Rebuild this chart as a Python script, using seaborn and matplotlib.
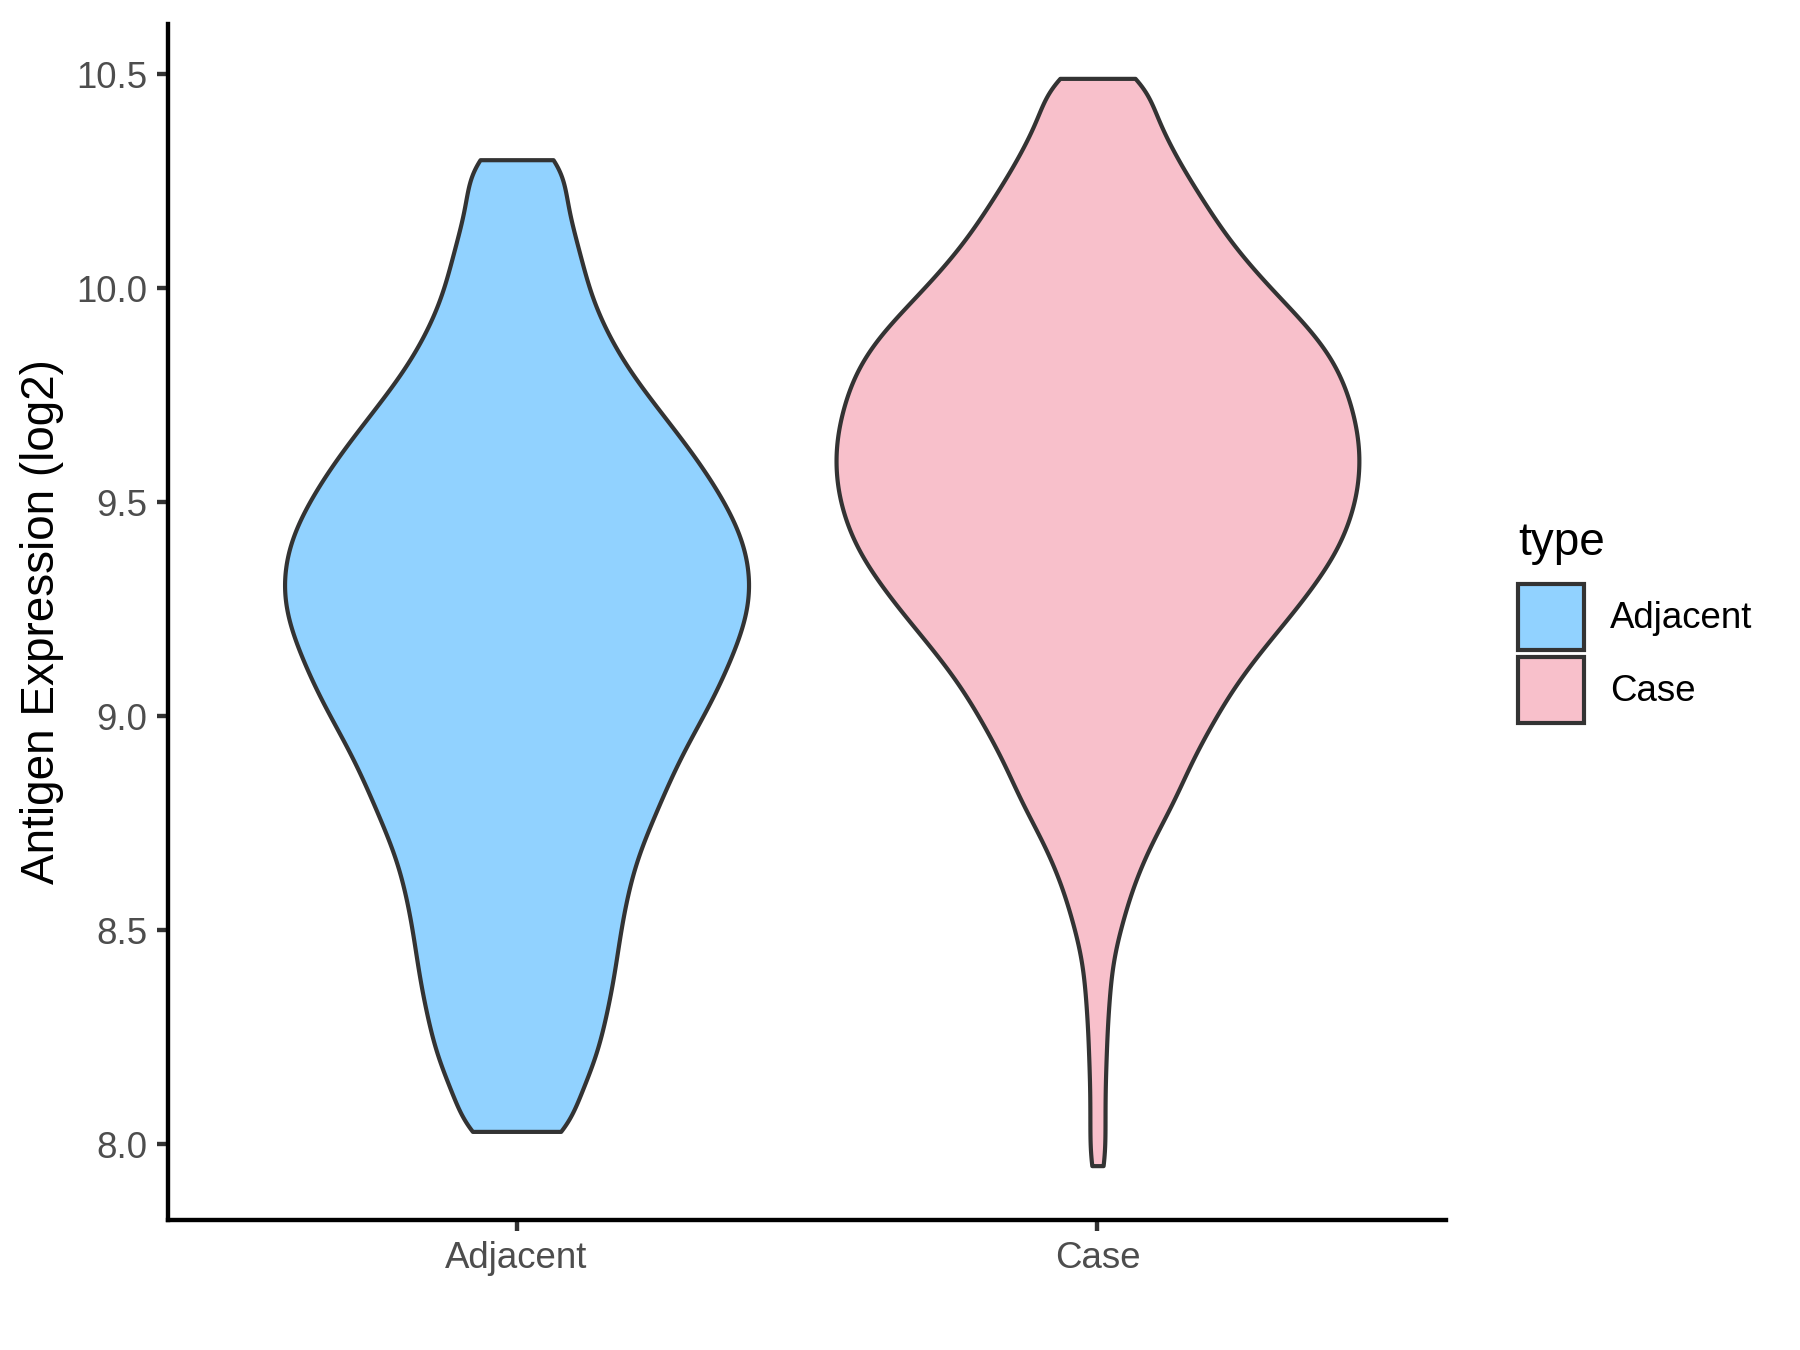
import numpy as np
import pandas as pd
import matplotlib
matplotlib.use("Agg")
import matplotlib.pyplot as plt
import seaborn as sns

# ---------------- data ----------------
categories = ["Adjacent", "Case"]
fill_colors = ["#91D2FF", "#F8C0CB"]

# expression values (log2) and how many samples sit at each value
adjacent_values = [8.03, 8.10, 8.15, 8.20, 8.25, 8.30, 8.35, 8.40, 8.45, 8.50,
                   8.55, 8.60, 8.65, 8.70, 8.75, 8.80, 8.85, 8.90, 8.95, 9.00,
                   9.05, 9.10, 9.15, 9.20, 9.25, 9.30, 9.35, 9.40, 9.45, 9.50,
                   9.55, 9.60, 9.65, 9.70, 9.75, 9.80, 9.85, 9.90, 9.95, 10.00,
                   10.05, 10.10, 10.15, 10.20, 10.25, 10.30]
adjacent_counts = [30, 21, 23, 26, 28, 29, 31, 32, 33, 34,
                   35, 37, 38, 41, 44, 47, 50, 53, 57, 61,
                   65, 68, 71, 74, 76, 77, 76, 75, 72, 68,
                   64, 59, 54, 48, 43, 37, 33, 29, 26, 23,
                   22, 20, 18, 16, 14, 22]

case_values = [7.95, 8.00, 8.05, 8.10, 8.15, 8.20, 8.25, 8.30, 8.35, 8.40,
               8.45, 8.50, 8.55, 8.60, 8.65, 8.70, 8.75, 8.80, 8.85, 8.90,
               8.95, 9.00, 9.05, 9.10, 9.15, 9.20, 9.25, 9.30, 9.35, 9.40,
               9.45, 9.50, 9.55, 9.60, 9.65, 9.70, 9.75, 9.80, 9.85, 9.90,
               9.95, 10.00, 10.05, 10.10, 10.15, 10.20, 10.25, 10.30, 10.35, 10.40,
               10.45, 10.49]
case_counts = [6, 5, 5, 5, 5, 6, 6, 7, 8, 9,
               11, 15, 19, 23, 29, 35, 43, 51, 57, 63,
               71, 79, 87, 97, 108, 120, 132, 143, 153, 162,
               167, 172, 174, 175, 174, 171, 167, 162, 154, 143,
               129, 115, 102, 90, 80, 71, 62, 53, 46, 39,
               30, 34]

y_ticks = [8.0, 8.5, 9.0, 9.5, 10.0, 10.5]
y_tick_labels = ["8.0", "8.5", "9.0", "9.5", "10.0", "10.5"]
y_title = "Antigen Expression (log2)"
legend_title = "type"

# ---------------- long-form table ----------------
df = pd.DataFrame({
    "type": ["Adjacent"] * int(np.sum(adjacent_counts)) + ["Case"] * int(np.sum(case_counts)),
    "value": np.concatenate([np.repeat(adjacent_values, adjacent_counts),
                             np.repeat(case_values, case_counts)]),
})

# ---------------- style ----------------
sns.set_theme(style="ticks")
plt.rcParams["font.family"] = ["Liberation Sans", "DejaVu Sans"]

fig = plt.figure(figsize=(6, 4.5), dpi=300)
ax = fig.add_axes([168 / 1800, 1 - 1220 / 1350, (1446 - 168) / 1800, (1220 - 24) / 1350])

sns.violinplot(
    data=df, x="type", y="value", hue="type",
    order=categories, hue_order=categories,
    palette=dict(zip(categories, fill_colors)), saturation=1,
    inner=None, cut=0, bw_method=0.12, gridsize=400,
    density_norm="area", common_norm=True, width=0.9, dodge=False,
    linewidth=1.0, linecolor="#333333", legend=True, ax=ax,
)

ax.set_xlim(-0.6, 1.6)
ax.set_ylim(7.823, 10.617)
ax.set_yticks(y_ticks)
ax.set_yticklabels(y_tick_labels)
ax.set_xlabel("")
ax.set_ylabel(y_title, fontsize=11, color="black", labelpad=3)

for side in ["top", "right"]:
    ax.spines[side].set_visible(False)
for side in ["left", "bottom"]:
    ax.spines[side].set_linewidth(1.05)
    ax.spines[side].set_color("black")
ax.tick_params(axis="both", length=2.75, width=1.05, color="#333333",
               labelsize=8.8, labelcolor="#4D4D4D", pad=2.2)

# ---------------- legend ----------------
old = ax.get_legend()
handles = list(old.legend_handles)
labels = [t.get_text() for t in old.get_texts()]
old.remove()
for h in handles:
    h.set_edgecolor("#333333")
    h.set_linewidth(1.0)
leg = fig.legend(
    handles, labels, title=legend_title, loc="center left",
    bbox_to_anchor=(1518 / 1800, 1 - 622 / 1350),
    frameon=False, fontsize=8.8, title_fontsize=11,
    handlelength=1.8, handleheight=2.385, handletextpad=0.7,
    labelspacing=0.19, borderpad=0, borderaxespad=0, alignment="left",
)
leg._legend_box.sep = 4.5
for t in leg.get_texts():
    t.set_color("black")
leg.get_title().set_color("black")

fig.savefig("out.png", dpi=300)
